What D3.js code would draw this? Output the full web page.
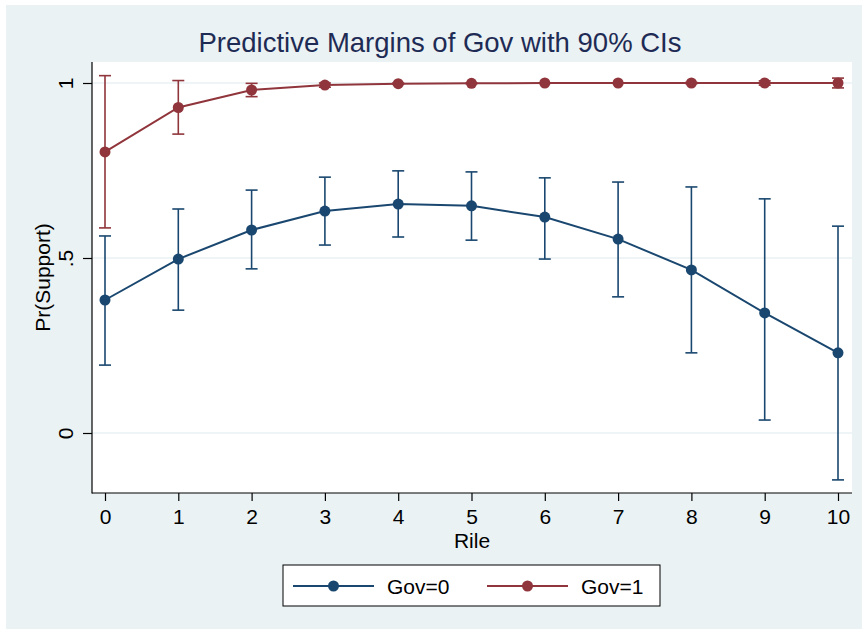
<!DOCTYPE html>
<html>
<head>
<meta charset="utf-8">
<script src="https://cdn.jsdelivr.net/npm/d3@7"></script>
<style>
  body { margin: 0; background: #fff; }
  text { font-family: "Liberation Sans", Arial, Helvetica, sans-serif; }
</style>
</head>
<body>
<svg id="chart" width="862" height="629"></svg>
<script>
// x positions (Rile)
const rile = [0, 1, 2, 3, 4, 5, 6, 7, 8, 9, 10];

// Gov=0 margins and 90% CI
const gov0 = [0.380, 0.497, 0.580, 0.634, 0.654, 0.649, 0.617, 0.554, 0.466, 0.343, 0.229];
const gov0Lo = [0.194, 0.351, 0.469, 0.537, 0.560, 0.551, 0.497, 0.389, 0.229, 0.037, -0.134];
const gov0Hi = [0.563, 0.640, 0.694, 0.731, 0.749, 0.746, 0.729, 0.717, 0.703, 0.669, 0.591];

// Gov=1 margins and 90% CI
const gov1 = [0.803, 0.930, 0.980, 0.994, 0.998, 0.999, 1.000, 1.000, 1.000, 1.000, 1.000];
const gov1Lo = [0.586, 0.854, 0.961, 0.988, 0.996, 0.998, 0.999, 0.999, 0.998, 0.994, 0.986];
const gov1Hi = [1.021, 1.007, 0.999, 1.000, 1.000, 1.000, 1.000, 1.000, 1.002, 1.006, 1.014];

const yTicks = [0, 0.5, 1];
const yTickLabels = ["0", ".5", "1"];
const legendLabels = ["Gov=0", "Gov=1"];

const blue = "#1a476f", red = "#90353b";
const bg = "#eaf2f3";

const svg = d3.select("#chart");
const plot = {left: 92, right: 852, top: 62, bottom: 493};

// graph region
svg.append("rect").attr("x", 6).attr("y", 5).attr("width", 856).attr("height", 624).attr("fill", bg);
svg.append("rect")
  .attr("x", plot.left).attr("y", plot.top)
  .attr("width", plot.right - plot.left).attr("height", plot.bottom - plot.top)
  .attr("fill", "#fff");

const x = d3.scaleLinear().domain([0, 10]).range([105, 838]);
const y = d3.scaleLinear().domain([0, 1]).range([433, 83]);

// gridlines
svg.append("g").selectAll("line")
  .data(yTicks).join("line")
  .attr("x1", plot.left).attr("x2", plot.right)
  .attr("y1", d => y(d)).attr("y2", d => y(d))
  .attr("stroke", bg).attr("stroke-width", 1.5);

// axes
const yAxis = svg.append("g")
  .attr("transform", `translate(${plot.left},0)`)
  .call(d3.axisLeft(y).tickValues(yTicks).tickSize(9).tickFormat((d, i) => yTickLabels[i]));
yAxis.select(".domain").remove();
yAxis.selectAll("line").attr("stroke", "#000").attr("stroke-width", 1.2);
yAxis.selectAll("text")
  .attr("x", null).attr("dy", null)
  .attr("transform", "translate(-19,0) rotate(-90)")
  .attr("text-anchor", "middle")
  .style("font-size", "21px").attr("fill", "#000");

const xAxis = svg.append("g")
  .attr("transform", `translate(0,${plot.bottom})`)
  .call(d3.axisBottom(x).tickValues(rile).tickSize(8).tickFormat(d3.format("d")));
xAxis.select(".domain").remove();
xAxis.selectAll("line").attr("stroke", "#000").attr("stroke-width", 1.2);
xAxis.selectAll("text")
  .attr("y", 31).attr("dy", null)
  .style("font-size", "21px").attr("fill", "#000");

svg.append("line")
  .attr("x1", plot.left).attr("x2", plot.left)
  .attr("y1", plot.top).attr("y2", plot.bottom + 0.5)
  .attr("stroke", "#000").attr("stroke-width", 1.2);
svg.append("line")
  .attr("x1", plot.left).attr("x2", plot.right)
  .attr("y1", plot.bottom).attr("y2", plot.bottom)
  .attr("stroke", "#000").attr("stroke-width", 1.2);

// titles
svg.append("text")
  .attr("x", 440).attr("y", 52)
  .attr("text-anchor", "middle")
  .style("font-size", "27.5px").attr("fill", "#1e2b55")
  .text("Predictive Margins of Gov with 90% CIs");
svg.append("text")
  .attr("x", (plot.left + plot.right) / 2).attr("y", 548)
  .attr("text-anchor", "middle")
  .style("font-size", "21px")
  .text("Rile");
svg.append("text")
  .attr("transform", `translate(50,${(plot.top + plot.bottom) / 2}) rotate(-90)`)
  .attr("text-anchor", "middle")
  .style("font-size", "21px")
  .text("Pr(Support)");

// series
const series = [
  {mean: gov0, lo: gov0Lo, hi: gov0Hi, color: blue},
  {mean: gov1, lo: gov1Lo, hi: gov1Hi, color: red}
];
const capW = 6;

series.forEach(s => {
  const g = svg.append("g");
  const ci = rile.map((r, i) => ({r, lo: s.lo[i], hi: s.hi[i]}));
  g.selectAll(".bar").data(ci).join("line")
    .attr("x1", d => x(d.r)).attr("x2", d => x(d.r))
    .attr("y1", d => y(d.lo)).attr("y2", d => y(d.hi))
    .attr("stroke", s.color).attr("stroke-width", 1.6);
  ["lo", "hi"].forEach(k => {
    g.selectAll(".cap-" + k).data(ci).join("line")
      .attr("x1", d => x(d.r) - capW).attr("x2", d => x(d.r) + capW)
      .attr("y1", d => y(d[k])).attr("y2", d => y(d[k]))
      .attr("stroke", s.color).attr("stroke-width", 1.6);
  });
});

series.forEach(s => {
  const pts = rile.map((r, i) => [r, s.mean[i]]);
  svg.append("path")
    .datum(pts)
    .attr("d", d3.line().x(d => x(d[0])).y(d => y(d[1])))
    .attr("fill", "none").attr("stroke", s.color).attr("stroke-width", 2);
  svg.append("g").selectAll("circle").data(pts).join("circle")
    .attr("cx", d => x(d[0])).attr("cy", d => y(d[1]))
    .attr("r", 5.5).attr("fill", s.color);
});

// legend
const legend = svg.append("g");
legend.append("rect")
  .attr("x", 283).attr("y", 565).attr("width", 377).attr("height", 41)
  .attr("fill", "#fff").attr("stroke", "#000").attr("stroke-width", 1);
const legendX = d3.scaleOrdinal().domain(legendLabels).range([293, 487]);
legendLabels.forEach((lab, i) => {
  const lx = legendX(lab);
  const col = series[i].color;
  legend.append("line")
    .attr("x1", lx).attr("x2", lx + 81).attr("y1", 586).attr("y2", 586)
    .attr("stroke", col).attr("stroke-width", 2);
  legend.append("circle").attr("cx", lx + 40.5).attr("cy", 586).attr("r", 5.5).attr("fill", col);
  legend.append("text")
    .attr("x", lx + 94).attr("y", 593.5)
    .style("font-size", "21px")
    .text(lab);
});
</script>
</body>
</html>
